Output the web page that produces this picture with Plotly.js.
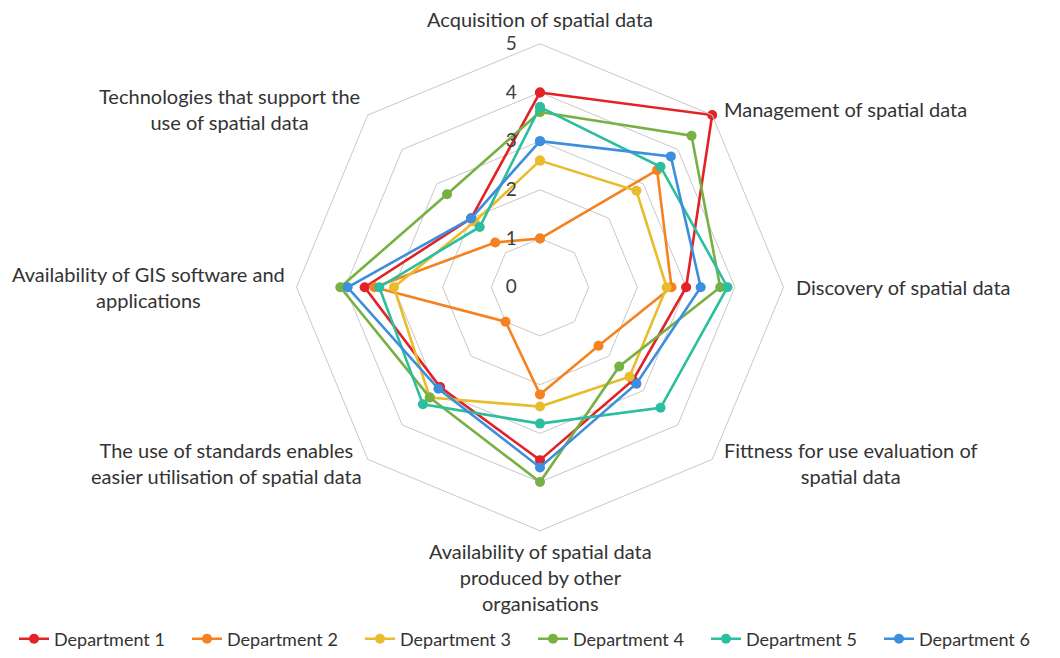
<!DOCTYPE html>
<html>
<head>
<meta charset="utf-8">
<script src="https://cdn.plot.ly/plotly-3.0.1.min.js"></script>
<style>html,body{margin:0;padding:0;background:#fff;}#chart{width:1060px;height:658px;}</style>
</head>
<body>
<div id="chart"></div>
<script>
const categories = [
  "Acquisition of spatial data",
  "Management of spatial data",
  "Discovery of spatial data",
  "Fittness for use evaluation of<br>spatial data",
  "Availability of spatial data<br>produced by other<br>organisations",
  "The use of standards enables<br>easier utilisation of spatial data",
  "Availability of GIS software and<br>applications",
  "Technologies that support the<br>use of spatial data"
];
const seriesNames = ["Department 1","Department 2","Department 3","Department 4","Department 5","Department 6"];
const dept1 = [4.0, 5.0, 3.0, 2.7, 3.55, 2.9, 3.6, 2.0];
const dept2 = [1.0, 3.4, 2.7, 1.7, 2.2, 1.0, 3.4, 1.3];
const dept3 = [2.6, 2.8, 2.6, 2.6, 2.45, 3.2, 3.0, 1.9];
const dept4 = [3.6, 4.4, 3.7, 2.3, 4.0, 3.2, 4.1, 2.7];
const dept5 = [3.7, 3.5, 3.85, 3.5, 2.8, 3.4, 3.3, 1.75];
const dept6 = [3.0, 3.8, 3.3, 2.8, 3.7, 2.95, 3.95, 2.0];
const radialTicks = [0, 1, 2, 3, 4, 5];

const colors = ["#E32227", "#F5821F", "#E8BC2C", "#77B143", "#2DBE9F", "#3D8EDC"];
const allSeries = [dept1, dept2, dept3, dept4, dept5, dept6];

const traces = allSeries.map((vals, i) => ({
  type: "scatterpolar",
  mode: "lines+markers",
  name: seriesNames[i],
  r: vals.concat([vals[0]]),
  theta: categories.concat([categories[0]]),
  line: {color: colors[i], width: 2.6},
  marker: {color: colors[i], size: 10},
  cliponaxis: false
}));

// category label placement (paper px): [x, y, xanchor]
const labelPos = [
  [540, 19, "center"],
  [722, 110, "left"],
  [794, 289, "left"],
  [851, 466, "center"],
  [540, 581, "center"],
  [226, 466, "center"],
  [148, 289, "center"],
  [229, 110, "center"]
];
const W = 1060, H = 658;
const annotations = categories.map((c, i) => ({
  text: c, xref: "paper", yref: "paper",
  x: labelPos[i][0] / W, y: 1 - labelPos[i][1] / H,
  xanchor: labelPos[i][2], yanchor: "middle", align: "center",
  showarrow: false, font: {size: 20, color: "#333333"}
}));

const layout = {
  width: W, height: H,
  margin: {l: 0, r: 0, t: 0, b: 0},
  paper_bgcolor: "#ffffff",
  font: {family: "Lato, 'Open Sans', sans-serif", color: "#404040", size: 17},
  showlegend: true,
  legend: {orientation: "h", x: 533 / W, xanchor: "center", y: 1 - 643 / H, yanchor: "middle",
           font: {size: 18, color: "#333333"}, entrywidth: 128, entrywidthmode: "pixels"},
  annotations: annotations,
  polar: {
    domain: {x: [295 / W, 785 / W], y: [1 - 534 / H, 1 - 44 / H]},
    gridshape: "linear",
    bgcolor: "#ffffff",
    radialaxis: {
      range: [0, 5], tickvals: radialTicks, angle: 90, side: "counterclockwise",
      showline: false, showgrid: true, gridcolor: "#c8c8c8", gridwidth: 1,
      ticks: "outside", ticklen: 16, tickcolor: "rgba(0,0,0,0)",
      tickfont: {size: 19, color: "#404040"}, tickangle: 90
    },
    angularaxis: {
      direction: "clockwise", rotation: 90, type: "category",
      showgrid: false, showline: true, linecolor: "#c8c8c8", linewidth: 1,
      ticks: "", showticklabels: false
    }
  }
};

Plotly.newPlot("chart", traces, layout, {displayModeBar: false, staticPlot: true});
</script>
</body>
</html>
